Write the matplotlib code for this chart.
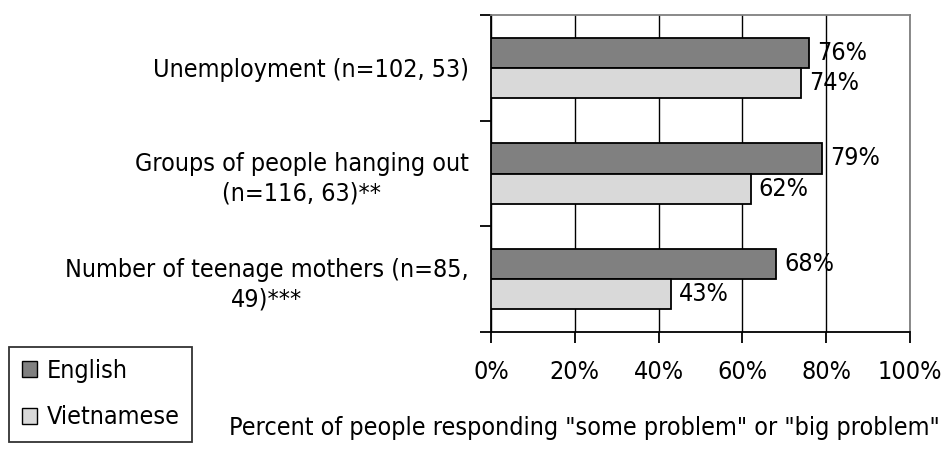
import matplotlib.pyplot as plt
from matplotlib.patches import Patch
from matplotlib.ticker import FixedLocator, PercentFormatter

categories = ['Unemployment (n=102, 53)',
              'Groups of people hanging out\n(n=116, 63)**',
              'Number of teenage mothers (n=85,\n49)***']
english = [76, 79, 68]
vietnamese = [74, 62, 43]
x_ticks = [0, 20, 40, 60, 80, 100]
x_title = 'Percent of people responding "some problem" or "big problem"'

plt.rcParams['font.family'] = ['DejaVu Sans']
plt.rcParams['font.stretch'] = 'condensed'
fs = 18

fig = plt.figure(figsize=(9.46, 4.5), dpi=100)
ax = fig.add_axes([491 / 946, 118 / 450, 419 / 946, 317 / 450])

h = 0.284
ys = list(range(len(categories)))
b1 = ax.barh([y - h / 2 for y in ys], english, height=h, color='#808080',
             edgecolor='black', linewidth=1.3, zorder=3)
b2 = ax.barh([y + h / 2 for y in ys], vietnamese, height=h, color='#d9d9d9',
             edgecolor='black', linewidth=1.3, zorder=3)
for bars, vals in ((b1, english), (b2, vietnamese)):
    for rect, v in zip(bars, vals):
        ax.text(v + 1.9, rect.get_y() + rect.get_height() / 2, f'{v}%',
                va='center', ha='left', fontsize=fs, zorder=4)

ax.set_xlim(0, 100)
ax.set_ylim(len(categories) - 0.5, -0.5)
ax.set_xticks(x_ticks)
ax.xaxis.set_major_formatter(PercentFormatter(decimals=0))
ax.grid(axis='x', color='black', linewidth=1, zorder=0)
ax.tick_params(axis='x', direction='out', length=8, width=1.3, pad=12, labelsize=fs)

ax.set_yticks(ys)
ax.set_yticklabels(categories, fontsize=fs, multialignment='center', linespacing=1.3)
ax.yaxis.set_minor_locator(FixedLocator([-0.5, 0.5, 1.5, 2.5]))
ax.tick_params(axis='y', which='major', length=0, pad=16)
ax.tick_params(axis='y', which='minor', length=8, width=1.3, direction='out')

ax.spines['top'].set_color('#808080')
ax.spines['right'].set_color('#808080')
for side in ('top', 'right', 'left', 'bottom'):
    ax.spines[side].set_linewidth(1.3)

fig.text(584 / 946, 1 - 428 / 450, x_title, ha='center', va='center', fontsize=fs)

handles = [Patch(facecolor='#808080', edgecolor='black', label='English'),
           Patch(facecolor='#d9d9d9', edgecolor='black', label='Vietnamese')]
leg = fig.legend(handles=handles, loc='lower left', bbox_to_anchor=(9 / 946, 8 / 450),
                 fontsize=fs, frameon=True, fancybox=False, handlelength=0.6,
                 handleheight=0.6, handletextpad=0.4, labelspacing=0.9,
                 borderpad=0.5, borderaxespad=0, edgecolor='black')
leg.get_frame().set_linewidth(1.3)

fig.savefig('out.png', dpi=100)
